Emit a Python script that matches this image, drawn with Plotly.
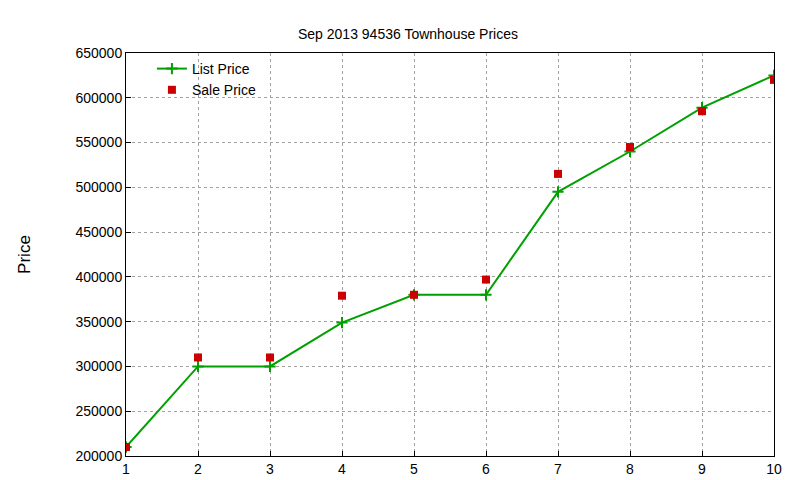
import plotly.graph_objects as go

houses = [1, 2, 3, 4, 5, 6, 7, 8, 9, 10]
list_price = [210000, 300000, 300000, 349000, 380000, 380000, 495000, 540000, 589000, 625000]
sale_price = [210000, 310000, 310000, 379000, 380000, 397000, 515000, 545000, 585000, 620000]

fig = go.Figure()
fig.add_trace(go.Scatter(x=houses, y=list_price, name="List Price", mode="lines+markers",
                         line=dict(color="#00a000", width=2),
                         marker=dict(symbol="cross-thin", size=8, line=dict(color="#00a000", width=2))))
fig.add_trace(go.Scatter(x=houses, y=sale_price, name="Sale Price", mode="markers",
                         marker=dict(symbol="square", size=8, color="#cc0000")))

ax = dict(showline=True, mirror=True, linecolor="black", linewidth=1,
          showgrid=True, gridcolor="#a0a0a0", griddash="dot", gridwidth=1,
          ticks="inside", tickcolor="black", zeroline=False, automargin=False)
fig.update_xaxes(range=[1, 10], dtick=1, **ax)
fig.update_yaxes(range=[200000, 650000], dtick=50000, tickformat="d",
                 title=dict(text="Price", standoff=0), **ax)

fig.update_layout(
    width=800, height=480, template="none",
    paper_bgcolor="white", plot_bgcolor="white",
    font=dict(family="Liberation Sans, Arial", size=14, color="black"),
    title=dict(text="Sep 2013 94536 Townhouse Prices", x=0.5, y=0.955, xanchor="center", font=dict(size=14)),
    margin=dict(l=118, r=34, t=45, b=32),
    legend=dict(x=0.04, y=1.0, xanchor="left", yanchor="top", bgcolor="rgba(0,0,0,0)",
                font=dict(size=14), tracegroupgap=0),
    showlegend=True,
)
fig.update_yaxes(title_standoff=40)
fig.write_html("out.html")
